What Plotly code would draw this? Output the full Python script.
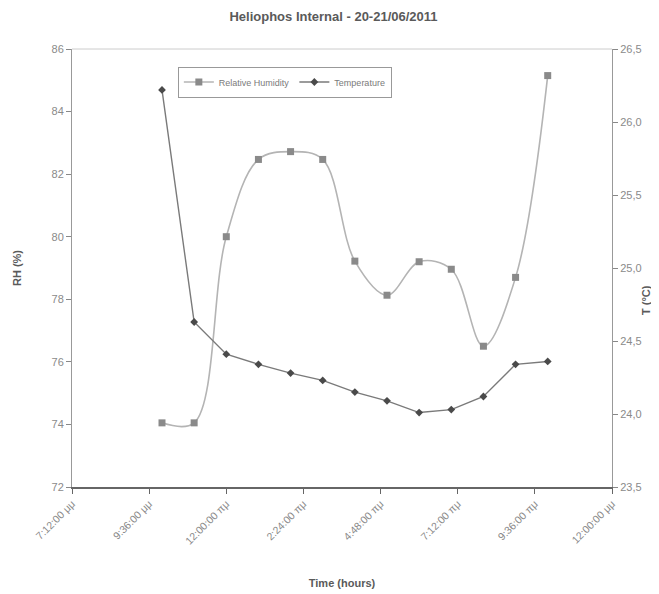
import plotly.graph_objects as go

# ---- data ----
times = ["2011-06-20 22:00", "2011-06-20 23:00", "2011-06-21 00:00", "2011-06-21 01:00",
         "2011-06-21 02:00", "2011-06-21 03:00", "2011-06-21 04:00", "2011-06-21 05:00",
         "2011-06-21 06:00", "2011-06-21 07:00", "2011-06-21 08:00", "2011-06-21 09:00",
         "2011-06-21 10:00"]
rh = [74.05, 74.05, 80.0, 82.47, 82.72, 82.47, 79.22, 78.13, 79.2, 78.96, 76.5, 78.7, 85.15]
temp = [26.22, 24.63, 24.41, 24.34, 24.28, 24.23, 24.15, 24.09, 24.01, 24.03, 24.12, 24.34, 24.36]

tick_vals = ["2011-06-20 19:12", "2011-06-20 21:36", "2011-06-21 00:00", "2011-06-21 02:24",
             "2011-06-21 04:48", "2011-06-21 07:12", "2011-06-21 09:36", "2011-06-21 12:00"]
tick_text = ["7:12:00 μμ", "9:36:00 μμ", "12:00:00 πμ", "2:24:00 πμ",
             "4:48:00 πμ", "7:12:00 πμ", "9:36:00 πμ", "12:00:00 μμ"]

FONT = "Liberation Sans Narrow, Liberation Sans, Arial, sans-serif"

fig = go.Figure()
fig.add_trace(go.Scatter(
    x=times, y=rh, name="Relative Humidity", mode="lines+markers",
    line=dict(color="#b4b4b4", width=1.6, shape="spline", smoothing=1.0),
    marker=dict(symbol="square", size=7, color="#8a8a8a"),
    yaxis="y"))
fig.add_trace(go.Scatter(
    x=times, y=temp, name="Temperature", mode="lines+markers",
    line=dict(color="#7a7a7a", width=1.4),
    marker=dict(symbol="diamond", size=6, color="#4a4a4a"),
    yaxis="y2"))

# page body has an 8px margin, so the figure is shrunk by 8px and margins adjusted
fig.update_layout(
    width=651, height=586,
    paper_bgcolor="white", plot_bgcolor="white",
    margin=dict(l=64, r=47, t=41, b=107),
    separators=",.",
    font=dict(family=FONT, color="#888888", size=11),
    title=dict(text="<b>Heliophos Internal - 20-21/06/2011</b>",
               x=0.5, xanchor="center", y=0.986, yanchor="middle",
               font=dict(family=FONT, size=13, color="#5a5a5a")),
    showlegend=True,
    legend=dict(orientation="h", x=0.196, y=0.96, xanchor="left", yanchor="top",
                bgcolor="white", bordercolor="#999999", borderwidth=1,
                font=dict(family=FONT, size=9, color="#7a7a7a"),
                itemwidth=30, tracegroupgap=0),
    xaxis=dict(
        type="date",
        range=["2011-06-20 19:12", "2011-06-21 12:00"],
        tickmode="array", tickvals=tick_vals, ticktext=tick_text,
        tickangle=-45, ticks="outside", ticklen=5, tickcolor="#666666",
        showline=True, linecolor="#666666", linewidth=1.5,
        showgrid=False, zeroline=False,
        tickfont=dict(family=FONT, size=10.5, color="#888888"),
        title=dict(text="<b>Time (hours)</b>", standoff=34,
                   font=dict(family=FONT, size=11, color="#5a5a5a")),
        automargin=False),
    yaxis=dict(
        range=[72, 86], dtick=2, tick0=72,
        ticks="outside", ticklen=5, tickcolor="#888888",
        showline=True, linecolor="#999999", linewidth=1,
        showgrid=False, zeroline=False,
        tickfont=dict(family=FONT, size=11, color="#8a8a8a"),
        title=dict(text="<b>RH (%)</b>", standoff=27,
                   font=dict(family=FONT, size=11, color="#5a5a5a")),
        automargin=False),
    yaxis2=dict(
        range=[23.5, 26.5], dtick=0.5, tick0=23.5, tickformat=".1f",
        overlaying="y", side="right",
        ticks="outside", ticklen=5, tickcolor="#888888",
        showline=True, linecolor="#999999", linewidth=1,
        showgrid=False, zeroline=False,
        tickfont=dict(family=FONT, size=11, color="#8a8a8a"),
        automargin=False),
    annotations=[dict(text="<b>T (°C)</b>", textangle=-90, showarrow=False,
                      xref="paper", yref="paper", x=1.063, y=0.427,
                      xanchor="center", yanchor="middle",
                      font=dict(family=FONT, size=11, color="#5a5a5a"))],
    shapes=[dict(type="line", xref="paper", yref="paper", x0=0, x1=1, y0=1, y1=1,
                 line=dict(color="#cccccc", width=1))],
)

fig.write_html("out.html")
